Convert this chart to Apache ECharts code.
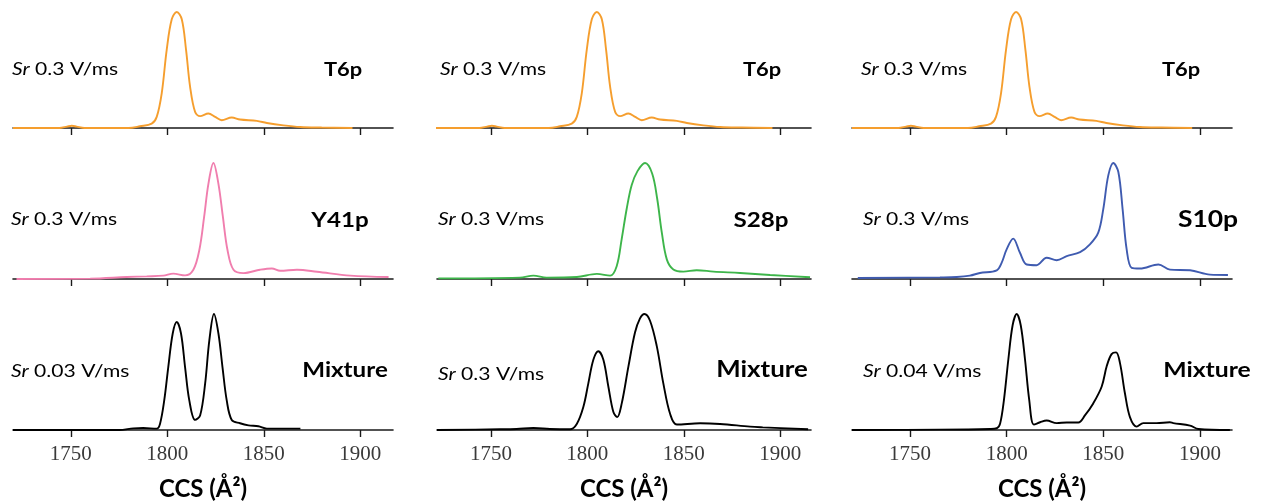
<!DOCTYPE html>
<html>
<head>
<meta charset="utf-8">
<script src="https://cdn.jsdelivr.net/npm/echarts@6/dist/echarts.min.js"></script>
<style>
html,body{margin:0;padding:0;background:#fff;}
#chart{width:1266px;height:504px;}
</style>
</head>
<body>
<div id="chart"></div>
<script>
// ---------- data (CCS in Å², relative intensity %) ----------
const tickValues = [1750, 1800, 1850, 1900];
const axisTitle = 'CCS (Å²)';

const t6pCCS = [1720, 1744, 1748, 1750.5, 1753, 1757, 1780, 1785.8, 1791.9, 1794.5, 1797.1, 1799.7, 1802.3, 1804.9, 1807.5, 1809.7, 1811.8, 1814.4, 1817.0, 1821.3, 1824.8, 1828.2, 1833.4, 1837.7, 1846.4, 1851.6, 1860.2, 1868.9, 1880, 1896];
const t6pInt = [0, 0, 1.2, 2, 1.2, 0, 0, 1.5, 3.8, 9.6, 29.9, 67.6, 93.7, 100, 93.7, 67.6, 35.7, 13.9, 10.2, 12.5, 9.6, 6.7, 9.0, 7.3, 6.1, 4.3, 2.3, 0.9, 0.4, 0];

const y41pCCS = [1721.8, 1760, 1778.9, 1789.3, 1797.9, 1803.1, 1809.2, 1813.5, 1816.6, 1819.1, 1821.3, 1823.9, 1826.5, 1828.8, 1831.2, 1834.3, 1839.5, 1848.1, 1854.2, 1858.5, 1867.2, 1877.6, 1894.9, 1914.7];
const y41pInt = [0, 0.3, 1.7, 2.3, 2.9, 4.6, 3.1, 8, 25, 53.7, 82, 100, 82, 53.7, 25, 8, 5.1, 8, 9.1, 7.1, 8, 6.3, 2.9, 1.7];

const s28pCCS = [1722.7, 1765.0, 1772.0, 1778.9, 1794.5, 1804.9, 1811.8, 1815.2, 1817.8, 1820.4, 1823.0, 1826.0, 1829.9, 1833.6, 1836.2, 1838.6, 1841.2, 1844.6, 1849.8, 1856.7, 1865.4, 1879.2, 1894.8, 1915.5];
const s28pInt = [0.5, 1.2, 2.9, 1.2, 1.7, 4.4, 2.9, 11, 34.4, 60.6, 81, 93, 100, 91, 69.4, 40.2, 16.9, 8.2, 6.4, 7.6, 6.4, 5.2, 3.5, 1.5];

const s10pCCS = [1723, 1765.5, 1774.2, 1781.0, 1786.2, 1794.9, 1797.4, 1800.0, 1803.4, 1806.9, 1810.4, 1815.5, 1820.7, 1825.9, 1831.1, 1838.0, 1843.1, 1847.4, 1850.0, 1852.6, 1855.2, 1857.8, 1860.0, 1862.1, 1864.7, 1869.0, 1878.5, 1884.5, 1894.9, 1905.2, 1914.5];
const s10pInt = [0.9, 1.4, 1.7, 2.9, 5.2, 7.5, 13.9, 25.5, 34.8, 22.6, 12.5, 11.9, 18.3, 16.2, 19.7, 23.2, 29.9, 40, 60.3, 89.3, 100, 92.2, 60.3, 25.5, 9.6, 9, 12.5, 8.1, 7.5, 3.8, 3.5];

const mixACCS = [1720, 1775, 1782.4, 1787.5, 1794.5, 1796.2, 1798.4, 1800.5, 1802.8, 1804.9, 1807.1, 1809.2, 1811.4, 1814.4, 1817.0, 1819.6, 1821.8, 1824.2, 1826.5, 1828.6, 1830.8, 1833.4, 1837.7, 1842.1, 1847.2, 1851.6, 1869];
const mixAInt = [0, 0, 1.4, 1.7, 1.2, 5.2, 25.5, 54.3, 83.2, 93.1, 83.2, 54.3, 25.5, 8.7, 12.4, 39.9, 77.5, 100, 83.2, 54.3, 25.5, 8.7, 5.8, 4, 3.2, 1.2, 1.2];

const mixBCCS = [1722, 1754.7, 1763.3, 1772.0, 1780.6, 1791.0, 1794.5, 1797.9, 1800.5, 1803.1, 1805.7, 1808.3, 1810.9, 1813.5, 1815.5, 1817.8, 1821.3, 1824.7, 1827.3, 1829.6, 1832.5, 1836.0, 1839.4, 1842.9, 1846.4, 1858.5, 1868.8, 1884.4, 1891, 1914.5];
const mixBInt = [0, 0.6, 0.9, 1.7, 0.9, 0.6, 5.2, 19.8, 40.2, 60.6, 67.9, 60.6, 37.3, 15.5, 11.1, 22.7, 54.8, 84, 96.2, 100, 94.2, 72.3, 40.2, 14, 4.7, 5.8, 5.2, 2.9, 2.3, 0.6];

const mixCCCS = [1720, 1765.5, 1791.4, 1794.9, 1796.6, 1798.6, 1800.9, 1803.1, 1805.2, 1807.3, 1809.5, 1811.7, 1814.1, 1817.3, 1820.7, 1825.9, 1831.1, 1837.1, 1840.5, 1844.8, 1849.2, 1851.8, 1854.3, 1856.6, 1858.6, 1861.2, 1863.8, 1867.3, 1870.7, 1877.6, 1884.5, 1886.2, 1894.9, 1899.2, 1915.5];
const mixCInt = [0, 0.3, 0.9, 1.5, 5.3, 25.8, 61, 90.3, 100, 90.3, 61, 25.8, 4.7, 6.7, 8.2, 5.9, 6.5, 6.5, 12.6, 22.9, 37.5, 55.1, 65.4, 66.9, 58.1, 31.7, 11.1, 2.9, 5.9, 5.9, 6.7, 5.9, 3.8, 0.9, 0];

const panelNames = [
  ['T6p', 'T6p', 'T6p'],
  ['Y41p', 'S28p', 'S10p'],
  ['Mixture', 'Mixture', 'Mixture']
];
const scanRates = [
  ['0.3', '0.3', '0.3'],
  ['0.3', '0.3', '0.3'],
  ['0.03', '0.3', '0.04']
];
const panelData = [
  [[t6pCCS, t6pInt], [t6pCCS, t6pInt], [t6pCCS, t6pInt]],
  [[y41pCCS, y41pInt], [s28pCCS, s28pInt], [s10pCCS, s10pInt]],
  [[mixACCS, mixAInt], [mixBCCS, mixBInt], [mixCCCS, mixCInt]]
];

// ---------- layout / style ----------
const colors = [
  ['#F59E2E', '#F59E2E', '#F59E2E'],
  ['#F07EAE', '#3DB54A', '#3F5BB0'],
  ['#000000', '#000000', '#000000']
];
const cols = [
  {min: 1720, max: 1917, left: 13, right: 393},
  {min: 1722, max: 1916, left: 437, right: 811},
  {min: 1720, max: 1916.6, left: 852, right: 1232}
];
const rowBase = [128, 279, 430];
const plotH = 116;
const srPos = [
  [[12, 70], [440, 70], [861, 70]],
  [[11, 220], [438, 220], [863, 220]],
  [[11, 372], [438, 375], [863, 372]]
];
const namePos = [
  [[343, 70], [762, 70], [1181, 70]],
  [[340, 220], [761, 220], [1208, 220]],
  [[345, 370], [762, 370], [1207, 370]]
];
const nameSize = [
  [19, 19, 19],
  [21, 21, 23],
  [21, 22.5, 21.5]
];

const grids = [], xAxes = [], yAxes = [], series = [], graphics = [];
let idx = 0;
for (let r = 0; r < 3; r++) {
  for (let c = 0; c < 3; c++) {
    const col = cols[c];
    grids.push({left: col.left, top: rowBase[r] - plotH, width: col.right - col.left, height: plotH});
    const bottomRow = r === 2;
    xAxes.push({
      type: 'value', gridIndex: idx, min: col.min, max: col.max,
      axisLine: {show: true, onZero: false, lineStyle: {color: '#1a1a1a', width: 1.6}},
      axisTick: {show: true, length: 7, customValues: tickValues, lineStyle: {color: '#1a1a1a', width: 1.4}},
      axisLabel: {show: bottomRow, customValues: tickValues, formatter: v => String(v), margin: 14,
        fontFamily: 'Liberation Serif', fontSize: 21, color: '#3a3a3a'},
      splitLine: {show: false},
      name: bottomRow ? axisTitle : '',
      nameLocation: 'middle', nameGap: 47,
      nameTextStyle: {fontFamily: 'Lato', fontWeight: 'bold', fontSize: 24, color: '#000'}
    });
    yAxes.push({type: 'value', gridIndex: idx, min: 0, max: 100, show: false});
    const [xs, ys] = panelData[r][c];
    series.push({
      type: 'line', xAxisIndex: idx, yAxisIndex: idx,
      data: xs.map((x, i) => [x, ys[i]]),
      showSymbol: false, smooth: 0.35, z: 5,
      lineStyle: {color: colors[r][c], width: 1.9},
      silent: true, animation: false
    });
    graphics.push({
      type: 'text', x: srPos[r][c][0], y: srPos[r][c][1], scaleX: 1.24,
      style: {
        text: '{i|Sr} ' + scanRates[r][c] + ' V/ms',
        font: '17px Lato', fill: '#000', align: 'left', verticalAlign: 'middle',
        rich: {i: {fontStyle: 'italic', fontFamily: 'Lato', fontSize: 17, fill: '#000'}}
      }
    });
    graphics.push({
      type: 'text', x: namePos[r][c][0], y: namePos[r][c][1], scaleX: 1.15,
      style: {text: panelNames[r][c], font: 'bold ' + nameSize[r][c] + 'px Lato', fill: '#000', align: 'center', verticalAlign: 'middle'}
    });
    idx++;
  }
}

const chart = echarts.init(document.getElementById('chart'));
chart.setOption({
  animation: false,
  backgroundColor: '#fff',
  grid: grids, xAxis: xAxes, yAxis: yAxes, series: series,
  graphic: graphics
});
</script>
</body>
</html>
